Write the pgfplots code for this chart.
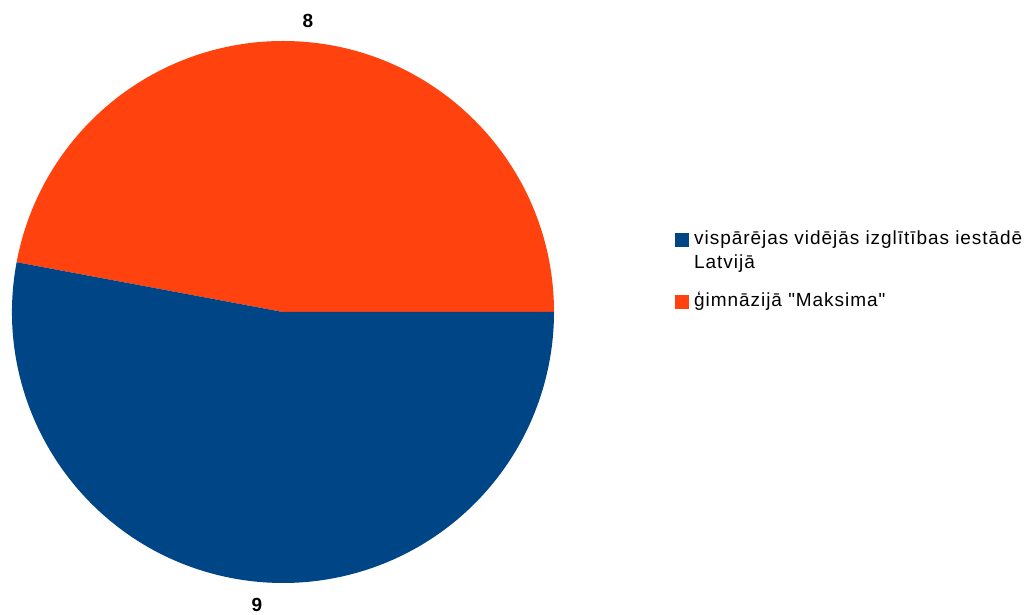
\documentclass[border=0pt]{standalone}
\usepackage{pgfplots}
\usepackage{pgfplotstable}
\pgfplotsset{compat=1.18}
\usepackage{fontspec}
\setmainfont{Liberation Sans}
\newfontfamily\legendfont{Liberation Sans}[LetterSpace=5]

\definecolor{pieblue}{HTML}{004586}
\definecolor{pieorange}{HTML}{FF420E}

% slice values: first the orange one (drawn from 0 deg counter-clockwise), then the blue one
\pgfplotstableread{
name value
gimn 8
visp 9
}\piedata

\begin{document}
\begin{tikzpicture}
\pgfplotstablegetelem{0}{value}\of\piedata \let\va\pgfplotsretval
\pgfplotstablegetelem{1}{value}\of\piedata \let\vb\pgfplotsretval
\pgfmathsetmacro{\angA}{360*\va/(\va+\vb)}
\begin{axis}[
  width=1026pt, height=614pt, scale only axis,
  xmin=0, xmax=1026, ymin=0, ymax=614,
  hide axis, clip=false,
]
% pie, centre (283,302), radius 271
\fill[pieorange] (axis cs:283,302) -- (axis cs:554,302)
  arc[start angle=0, end angle=\angA, radius=271pt] -- cycle;
\fill[pieblue] (axis cs:283,302) -- ++(\angA:271pt)
  arc[start angle=\angA, end angle=360, radius=271pt] -- cycle;
% value labels
\node[font=\fontsize{19}{22}\selectfont\bfseries] at (axis cs:308,593) {\va};
\node[font=\fontsize{19}{22}\selectfont\bfseries] at (axis cs:257,9) {\vb};
% legend
\fill[pieblue] (axis cs:675,367) rectangle (axis cs:689,381);
\fill[pieorange] (axis cs:675,305) rectangle (axis cs:689,319);
\node[anchor=base west, inner sep=0pt, font=\legendfont\fontsize{19}{22}\selectfont] at (axis cs:694,369) {vispārējas vidējās izglītības iestādē};
\node[anchor=base west, inner sep=0pt, font=\legendfont\fontsize{19}{22}\selectfont] at (axis cs:694,345) {Latvijā};
\node[anchor=base west, inner sep=0pt, font=\legendfont\fontsize{19}{22}\selectfont] at (axis cs:694,307) {ģimnāzijā \symbol{34}Maksima\symbol{34}};
\end{axis}
\pgfresetboundingbox
\path[use as bounding box] (0,0) rectangle (1026pt,614pt);
\end{tikzpicture}
\end{document}
